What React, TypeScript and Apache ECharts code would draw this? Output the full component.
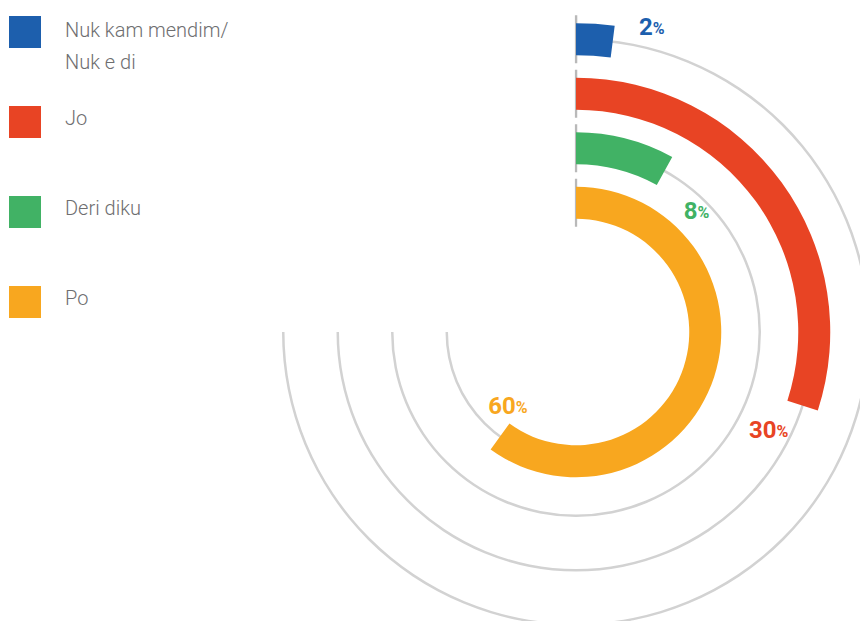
import React, { useEffect, useRef } from 'react';
import * as echarts from 'echarts';

// ---- data ----
const categories = ['Po', 'Deri diku', 'Jo', 'Nuk kam mendim/ Nuk e di']; // inner -> outer
const values = [60, 8, 30, 2];
const legendOrder = ['Nuk kam mendim/ Nuk e di', 'Jo', 'Deri diku', 'Po'];
const trackSpan = [75, 75, 75, 75]; // grey guide arcs (percent of full circle)
const tickSpan = [0.01, 0.01, 0.01, 0.01]; // start markers

// ---- style ----
const colors = ['#f8a71f', '#41b265', '#e84424', '#1d5fad'];
const labelOffsets: [number, number][] = [
  [8, -31],
  [32, 40],
  [-34, 24],
  [39, -15],
];
const FONT = "Roboto, 'Liberation Sans', sans-serif";
const CENTER = [576, 332];
const RADIUS = [102, 320];

export default function App() {
  const ref = useRef<HTMLDivElement>(null);
  useEffect(() => {
    if (!ref.current) return;
    const chart = echarts.init(ref.current, null, { renderer: 'svg' });
    const polar = [0, 1, 2].map(() => ({ center: CENTER, radius: RADIUS }));
    const angleAxis = [0, 1, 2].map((i) => ({
      polarIndex: i,
      type: 'value',
      min: 0,
      max: 100,
      startAngle: 90,
      clockwise: true,
      show: false,
    }));
    const radiusAxis = [0, 1, 2].map((i) => ({
      polarIndex: i,
      type: 'category',
      data: categories,
      show: false,
    }));
    const barSeries = categories.map((name, i) => ({
      type: 'bar',
      name,
      coordinateSystem: 'polar',
      polarIndex: 2,
      stack: 'v',
      barWidth: 32,
      data: categories.map((_, j) => (j === i ? values[i] : '-')),
      itemStyle: { color: colors[i] },
      silent: true,
    }));
    const txt = { fontFamily: FONT, fontSize: 20, fontWeight: 300, color: '#6e6e70' };
    chart.setOption({
      animation: false,
      polar,
      angleAxis,
      radiusAxis,
      legend: {
        data: legendOrder,
        orient: 'vertical',
        left: 9,
        top: -10,
        padding: 0,
        itemGap: 6,
        itemWidth: 32,
        itemHeight: 32,
        icon: 'rect',
        selectedMode: false,
        formatter: (name: string) => {
          const parts = name.split('/ ');
          if (parts.length > 1) {
            return `{e| }\n{t|${parts[0]}/}\n{u|${parts[1]}}`;
          }
          return `{e| }\n{t|${name}}\n{b| }`;
        },
        textStyle: {
          ...txt,
          padding: [0, 0, 0, 19],
          rich: {
            e: { ...txt, lineHeight: 28 },
            t: { ...txt, lineHeight: 32 },
            u: { ...txt, lineHeight: 32 },
            b: { ...txt, lineHeight: 36 },
          },
        },
      },
      series: [
        {
          type: 'bar',
          name: 'track',
          coordinateSystem: 'polar',
          polarIndex: 0,
          barWidth: 2.5,
          data: trackSpan,
          itemStyle: { color: '#d2d2d2' },
          silent: true,
        },
        {
          type: 'bar',
          name: 'tick',
          coordinateSystem: 'polar',
          polarIndex: 1,
          barWidth: 46,
          data: tickSpan,
          itemStyle: { color: '#b9b9b9', borderColor: '#b9b9b9', borderWidth: 2.2 },
          silent: true,
        },
        ...barSeries,
        {
          type: 'scatter',
          name: 'labels',
          coordinateSystem: 'polar',
          polarIndex: 2,
          symbolSize: 1,
          itemStyle: { color: 'rgba(0,0,0,0)', opacity: 1 },
          silent: true,
          data: values.map((v, i) => ({
            value: [categories[i], v],
            label: { color: colors[i], offset: labelOffsets[i] },
          })),
          label: {
            show: true,
            position: 'inside',
            formatter: (p: any) => `{n|${values[p.dataIndex]}}{p|%}`,
            rich: {
              n: { fontFamily: FONT, fontSize: 24, fontWeight: 'bold' },
              p: { fontFamily: FONT, fontSize: 16, fontWeight: 'bold', padding: [4, 0, 0, 0] },
            },
          },
        },
      ],
    });
    return () => chart.dispose();
  }, []);
  return (
    <div
      ref={ref}
      style={{ position: 'absolute', left: 0, top: 0, width: 860, height: 621, background: '#fff' }}
    />
  );
}
